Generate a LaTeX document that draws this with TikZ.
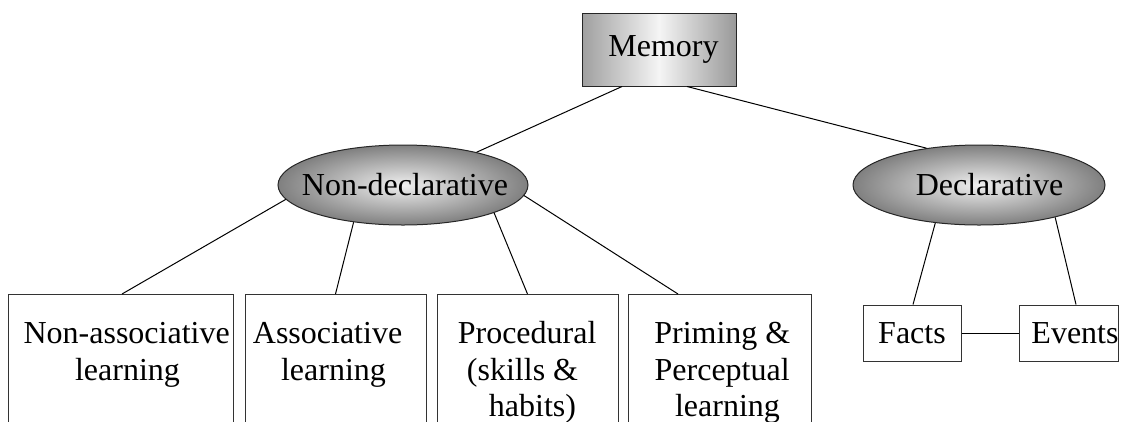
\documentclass[tikz,border=0pt]{standalone}
\usepackage{fontspec}
\setmainfont{Liberation Serif}
\usetikzlibrary{shapes.geometric}

% top-aligned, centred box text; #2 nudges the text sideways
\newcommand\boxlabel[3]{\parbox[t][140pt][t]{#1pt}{\parindent=0pt\leftskip=#2pt plus 1fil\rightskip=0pt plus 1fil\parfillskip=0pt\rule{0pt}{49pt}#3}}

\tikzset{
  every node/.style={font=\fontsize{32}{36.5}\selectfont},
  link/.style={draw=black, line width=1pt},
  topbox/.style={draw=black!85, line width=1pt, rectangle, inner sep=0pt,
    left color=gray!75, right color=gray!80, middle color=gray!8},
  oval/.style={draw=black!85, line width=1pt, ellipse, inner sep=0pt,
    minimum height=80pt, inner color=gray!12, outer color=gray!100},
  leaf/.style={draw=black!80, line width=1pt, rectangle, inner sep=0pt, anchor=north},
  smallbox/.style={draw=black!80, line width=1pt, rectangle, inner sep=0pt,
    minimum width=98pt, minimum height=56pt}
}

\begin{document}
\begin{tikzpicture}[x=1pt, y=-1pt]
\useasboundingbox (0,0) rectangle (1126,421);
\clip (0,0) rectangle (1126,421);

% root
\node[topbox, minimum width=154pt, minimum height=73pt] (mem) at (659,49.5) {\hspace*{9pt}Memory};

% the two branches
\node[oval, minimum width=250pt] (nd) at (403,185) {\makebox[120pt]{\hspace*{4pt}Non-declarative}};
\node[oval, minimum width=252pt] (dc) at (979,185) {\makebox[100pt]{\hspace*{21pt}Declarative}};

% non-declarative leaves
\node[leaf] (b1) at (120.5,294) {\boxlabel{225}{14}{Non-associative\\learning}};
\node[leaf] (b2) at (335.5,294) {\boxlabel{181}{-4}{Associative\\learning}};
\node[leaf] (b3) at (527.5,294) {\boxlabel{181}{10}{Procedural\\(skills \&\\habits)}};
\node[leaf] (b4) at (719.5,294) {\boxlabel{183}{16}{Priming \&\\Perceptual\\learning}};

% declarative leaves
\node[smallbox] (f) at (912,333) {Facts};
\node[smallbox] (e) at (1069,333) {\hspace*{12pt}Events};

% connectors
\draw[link] ([xshift=-37pt]mem.south) -- (nd.24.4);
\draw[link] ([xshift=28pt]mem.south) -- (dc.145);
\draw[link] (nd.187.3) -- ([xshift=1.5pt]b1.north);
\draw[link] (nd.217.6) -- (b2.north);
\draw[link] (nd.-17.5) -- (b3.north);
\draw[link] (nd.-5.9) -- ([xshift=-41.5pt]b4.north);
\draw[link] (dc.221.9) -- ([xshift=1pt]f.north);
\draw[link] (dc.-23.6) -- ([xshift=7pt]e.north);
\draw[link] (f.east) -- (e.west);
\end{tikzpicture}
\end{document}
